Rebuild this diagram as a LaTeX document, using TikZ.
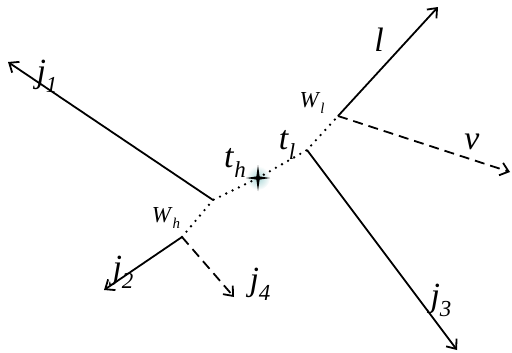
\documentclass[tikz,border=0pt]{standalone}
\usepackage{fontspec}
\setmainfont{Liberation Serif}
\usetikzlibrary{arrows.meta}
\newcommand{\sym}[2]{\textit{#1}\raisebox{-0.3em}{\fontsize{23}{23}\selectfont\textit{#2}}}
\newcommand{\ssym}[2]{\textit{#1}\raisebox{-0.3em}{\fontsize{15}{15}\selectfont\textit{#2}}}

\begin{document}
\begin{tikzpicture}[x=1bp,y=-1bp,
  jet/.style={line width=1.8bp,-{Straight Barb[length=8bp,width=13bp,line width=1.8bp]}},
  miss/.style={jet,dash pattern=on 10bp off 6bp},
  track/.style={line width=2.6bp,line cap=round,dash pattern=on 0bp off 7bp},
  big/.style={font=\fontsize{34}{34}\selectfont,inner sep=0pt},
  small/.style={font=\fontsize{23}{23}\selectfont,inner sep=0pt}]
\useasboundingbox (0,0) rectangle (512,352);
% vertices
\coordinate (wh) at (182,237);
\coordinate (jh) at (213,200);
\coordinate (ip) at (258,178);
\coordinate (jl) at (307,150);
\coordinate (wl) at (338,116);
% arrow ends
\coordinate (e1) at (8,62);
\coordinate (e2) at (104,290);
\coordinate (e3) at (457,350);
\coordinate (e4) at (234,297);
\coordinate (el) at (438,7);
\coordinate (ev) at (510,172);
% collision point
\shade[inner color=cyan!35!gray!50,outer color=white] (ip) circle (12bp);
\fill (ip) +(0,-13) -- +(1.6,-1.6) -- +(12,0) -- +(1.6,1.6) -- +(0,13)
  -- +(-1.6,1.6) -- +(-12,0) -- +(-1.6,-1.6) -- cycle;
% decay chain
\draw[track] (wh) -- (jh) -- (ip) -- (jl) -- (wl);
\draw[jet] (jh) -- (e1);
\draw[jet] (wh) -- (e2);
\draw[miss] (wh) -- (e4);
\draw[jet] (jl) -- (e3);
\draw[jet] (wl) -- (el);
\draw[miss] (wl) -- (ev);
% labels
\node[big] (j1) at (47,76) {\sym{j}{1}};
\node[big] (j2) at (123,272) {\sym{j}{2}};
\node[big] (j3) at (441,300) {\sym{j}{3}};
\node[big] (j4) at (260,284) {\sym{j}{4}};
\node[big] (lep) at (379,40) {\textit{l}};
\node[big] (nu) at (472,142) {\textit{v}};
\node[big] (th) at (235,163) {\sym{t}{h}};
\node[big] (tl) at (287,145) {\sym{t}{l}};
\node[small] (Wh) at (166,218) {\ssym{W}{h}};
\node[small] (Wl) at (312,103) {\ssym{W}{l}};
\end{tikzpicture}
\end{document}
